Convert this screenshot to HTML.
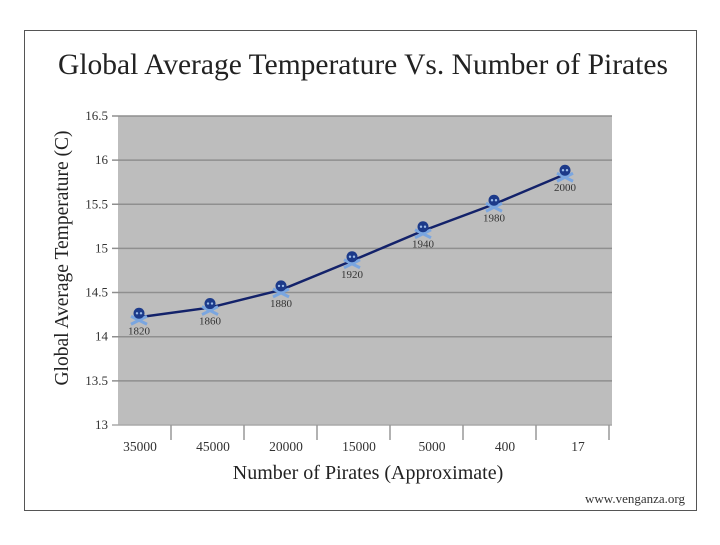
<!DOCTYPE html>
<html><head><meta charset="utf-8"><style>
body{margin:0;background:#fff;}
svg text{font-family:"Liberation Serif",serif;}
</style></head><body>
<svg width="720" height="540" xmlns="http://www.w3.org/2000/svg">
<rect x="24.5" y="30.5" width="672" height="480" fill="#fff" stroke="#555" stroke-width="1"/>
<text x="363" y="74" font-size="29.5" text-anchor="middle" fill="#222">Global Average Temperature Vs. Number of Pirates</text>
<rect x="118" y="116" width="494" height="309" fill="#bdbdbd"/>
<g id="grid"></g>
<g id="xaxis"></g>
<text transform="translate(68,258) rotate(-90)" font-size="19.5" text-anchor="middle" fill="#222">Global Average Temperature (C)</text>
<text x="368" y="479" font-size="20" text-anchor="middle" fill="#222">Number of Pirates (Approximate)</text>
<text x="685" y="503" font-size="13" text-anchor="end" fill="#333">www.venganza.org</text>
<g id="series"></g>
</svg>
<script>
const categories=["35000","45000","20000","15000","5000","400","17"];
const years=["1820","1860","1880","1920","1940","1980","2000"];
const temps=[14.22,14.33,14.53,14.86,15.2,15.5,15.84];
const yTicks=[13,13.5,14,14.5,15,15.5,16,16.5];
const NS="http://www.w3.org/2000/svg";
function y(v){return 425-(v-13)*88.3;}
function xp(i){return 139+i*71;}
function xl(i){return 140+i*73;}
function mk(tag,attrs,parent,text){const e=document.createElementNS(NS,tag);for(const k in attrs)e.setAttribute(k,attrs[k]);if(text!==undefined)e.textContent=text;parent.appendChild(e);return e;}
const grid=document.getElementById('grid');
yTicks.forEach(v=>{
  const l=mk('line',{x1:112,x2:612,y1:y(v),y2:y(v),stroke:v===13?'#aaa':'#8f8f8f','stroke-width':1.5},grid);
  
  
  const t=mk('text',{x:108,y:y(v)+4,'font-size':13,'text-anchor':'end',fill:'#333'},grid,String(v));
  
  
});
const xa=document.getElementById('xaxis');
categories.forEach((c,i)=>{
  const tk=mk('line',{x1:171+i*73,x2:171+i*73,y1:425,y2:440,stroke:'#999','stroke-width':1.5},xa);
  
  
  const t=mk('text',{x:xl(i),y:451,'font-size':13.5,'text-anchor':'middle',fill:'#333'},xa,c);
  
  
});
const s=document.getElementById('series');
const pts=temps.map((v,i)=>xp(i)+','+y(v)).join(' ');
const pl=mk('polyline',{points:pts,fill:'none',stroke:'#13226a','stroke-width':2.5},s);


temps.forEach((v,i)=>{
  const cx=xp(i),cy=y(v);
  const g=mk('g',{},s);
  
  
  mk('line',{x1:cx-8,y1:cy-1,x2:cx+8,y2:cy+7,stroke:'#7aa6e0','stroke-width':3},g);
  mk('line',{x1:cx+8,y1:cy-1,x2:cx-8,y2:cy+7,stroke:'#7aa6e0','stroke-width':3},g);
  mk('ellipse',{cx:cx,cy:cy-4,rx:5.5,ry:5.5,fill:'#1c3a8a'},g);
  mk('circle',{cx:cx-2,cy:cy-4,r:1.2,fill:'#9bbbe8'},g);
  mk('circle',{cx:cx+2,cy:cy-4,r:1.2,fill:'#9bbbe8'},g);
  const t=mk('text',{x:cx,y:cy+17,'font-size':11,'text-anchor':'middle',fill:'#333'},s,years[i]);
  
  
});
</script>
</body></html>
